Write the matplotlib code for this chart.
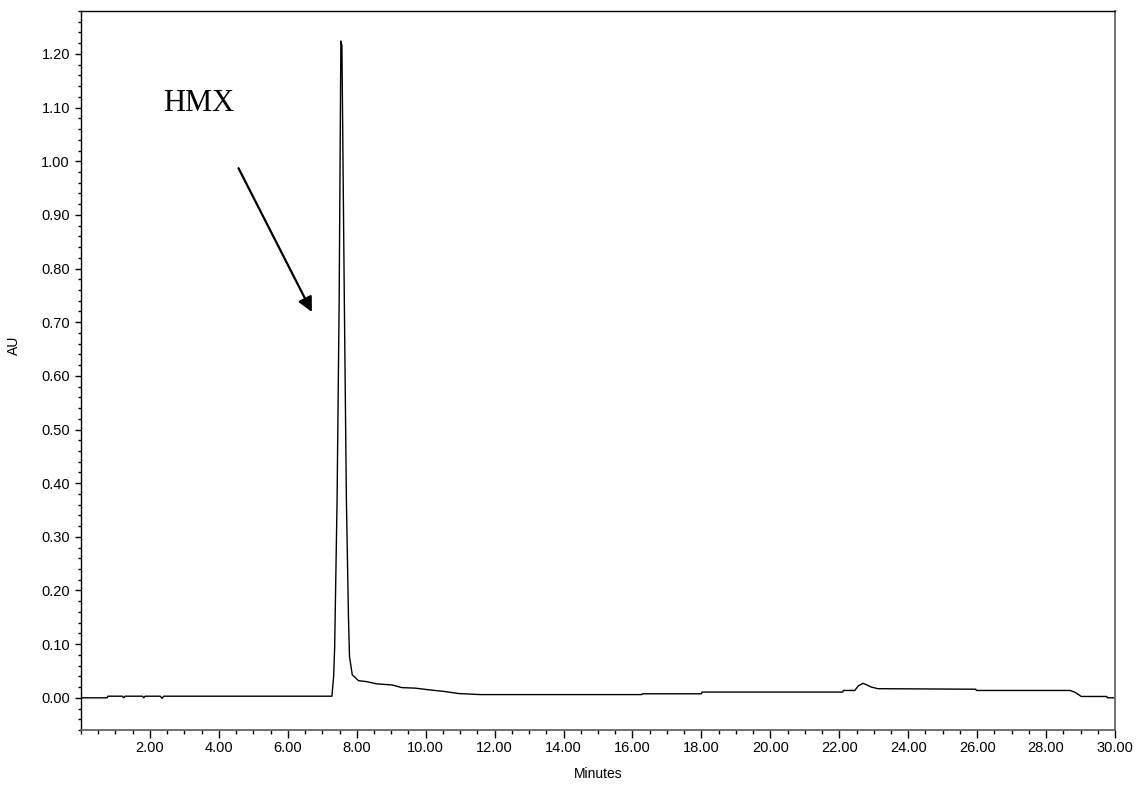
import matplotlib
matplotlib.use('Agg')
import matplotlib.pyplot as plt
from matplotlib.ticker import MultipleLocator, FormatStrFormatter

# Chromatogram trace (minutes, AU)
minutes = [0.00, 0.76, 0.78, 1.20, 1.24, 1.28, 1.78, 1.82, 1.86, 2.30, 2.35, 2.40,
           7.28, 7.33, 7.36, 7.43, 7.49, 7.54, 7.57, 7.64, 7.70, 7.76, 7.79, 7.87,
           8.05, 8.30, 8.58, 9.02, 9.31, 9.70, 10.08, 10.52, 10.95, 11.58,
           16.27, 16.29, 18.00, 18.02, 22.10, 22.12, 22.45, 22.55, 22.69, 22.80,
           22.93, 23.12, 25.96, 25.98, 28.70, 28.85, 29.02, 29.76, 29.78, 30.00]
absorbance = [0.000, 0.000, 0.003, 0.003, 0.000, 0.003, 0.003, 0.000, 0.003, 0.003, -0.001, 0.003,
              0.003, 0.040, 0.095, 0.370, 0.740, 1.224, 1.215, 0.740, 0.370, 0.150, 0.077, 0.043,
              0.032, 0.030, 0.026, 0.024, 0.019, 0.018, 0.015, 0.012, 0.008, 0.006,
              0.006, 0.0075, 0.0075, 0.0107, 0.0107, 0.0137, 0.0137, 0.022, 0.027, 0.024,
              0.020, 0.017, 0.016, 0.0137, 0.0137, 0.010, 0.0025, 0.0025, 0.000, 0.000]

x_major = [2, 4, 6, 8, 10, 12, 14, 16, 18, 20, 22, 24, 26, 28, 30]
peak_name = 'HMX'

fig = plt.figure(figsize=(11.38, 7.85), dpi=100)
ax = fig.add_axes([81 / 1138, 1 - 730 / 785, (1115 - 81) / 1138, (730 - 11) / 785])

ax.plot(minutes, absorbance, color='black', linewidth=1.0)

ax.set_xlim(0, 30)
ax.set_ylim(-0.06, 1.28)

ax.set_xticks(x_major)
ax.xaxis.set_minor_locator(MultipleLocator(0.5))
ax.xaxis.set_major_formatter(FormatStrFormatter('%.2f'))
ax.set_yticks([i / 10 for i in range(13)])
ax.yaxis.set_minor_locator(MultipleLocator(0.02))
ax.yaxis.set_major_formatter(FormatStrFormatter('%.2f'))

tick_font = 'Liberation Sans'
ax.tick_params(which='both', top=False, right=False)
ax.tick_params(axis='x', which='major', length=6, width=1, pad=2, labelsize=10.5)
ax.tick_params(axis='x', which='minor', length=3, width=1)
ax.tick_params(axis='y', which='major', length=4, width=1, pad=4, labelsize=10.5)
ax.tick_params(axis='y', which='minor', length=2.5, width=1)
for lab in ax.get_xticklabels() + ax.get_yticklabels():
    lab.set_fontfamily(tick_font)

for side in ['left', 'top']:
    ax.spines[side].set_color('black')
    ax.spines[side].set_linewidth(1)
for side in ['right', 'bottom']:
    ax.spines[side].set_color('#666666')
    ax.spines[side].set_linewidth(1.3)

ax.set_xlabel('Minutes', fontsize=10, fontfamily=tick_font)
ax.xaxis.set_label_coords(0.5, -0.052)
ax.set_ylabel('AU', fontsize=10, fontfamily=tick_font)
ax.yaxis.set_label_coords(-0.058, 0.535)

# peak label with arrow
ax.text(2.38, 1.093, peak_name, fontsize=22, fontfamily='Liberation Serif',
        ha='left', va='baseline')
ax.annotate('', xy=(6.70, 0.719), xytext=(4.57, 0.987),
            arrowprops=dict(arrowstyle='-|>', color='black', lw=1.6,
                            mutation_scale=22, shrinkA=0, shrinkB=0))

plt.savefig('out.png', dpi=100)
plt.close()
